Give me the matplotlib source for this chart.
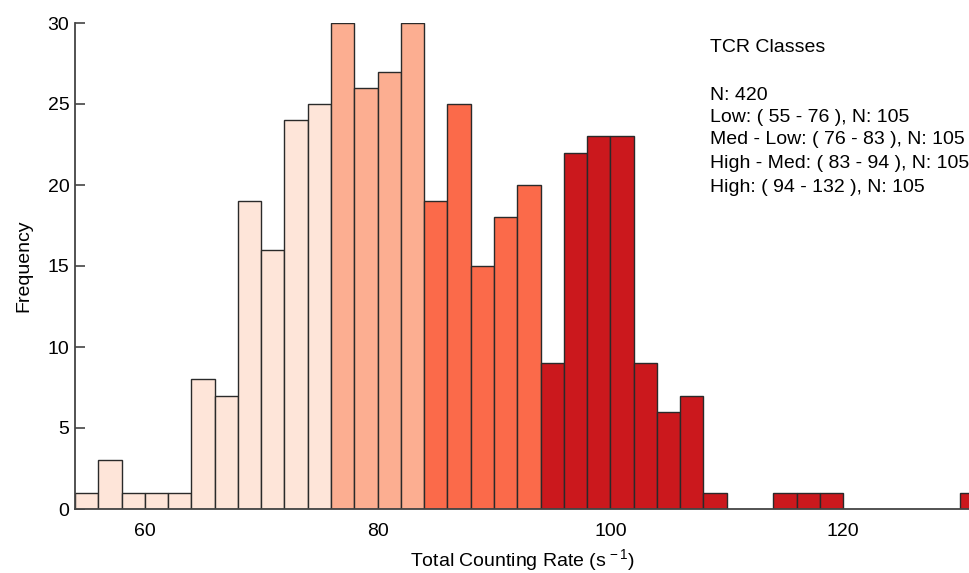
import matplotlib
matplotlib.use("Agg")
import matplotlib.pyplot as plt

plt.rcParams['font.family'] = ['Liberation Sans', 'DejaVu Sans']
plt.rcParams['mathtext.fontset'] = 'custom'
plt.rcParams['mathtext.rm'] = 'Liberation Sans'
plt.rcParams['mathtext.it'] = 'Liberation Sans'

# Data
bin_starts = [54, 56, 58, 60, 62, 64, 66, 68, 70, 72, 74,
              76, 78, 80, 82,
              84, 86, 88, 90, 92,
              94, 96, 98, 100, 102, 104, 106, 108, 110, 112, 114, 116, 118,
              120, 122, 124, 126, 128, 130]
counts = [1, 3, 1, 1, 1, 8, 7, 19, 16, 24, 25,
          30, 26, 27, 30,
          19, 25, 15, 18, 20,
          9, 22, 23, 23, 9, 6, 7, 1, 0, 0, 1, 1, 1,
          0, 0, 0, 0, 0, 1]
classes = ['Low'] * 11 + ['Med - Low'] * 4 + ['High - Med'] * 5 + ['High'] * 19
class_colors = {'Low': '#FEE5D9', 'Med - Low': '#FCAE91',
                'High - Med': '#FB6A4A', 'High': '#CB181D'}
legend_lines = ["N: 420",
                "Low: ( 55 - 76 ), N: 105",
                "Med - Low: ( 76 - 83 ), N: 105",
                "High - Med: ( 83 - 94 ), N: 105",
                "High: ( 94 - 132 ), N: 105"]
bin_width = 2

fig = plt.figure(figsize=(9.70, 5.73), dpi=100)
ax = fig.add_axes([75/970, 1 - 509/573, 1 - 75/970, (509 - 23)/573])

for x, c, cl in zip(bin_starts, counts, classes):
    if c > 0:
        ax.bar(x, c, width=bin_width, align='edge', color=class_colors[cl],
               edgecolor='#2a2a2a', linewidth=1.0, zorder=2)

ax.set_xlim(54, 130.9)
ax.set_ylim(0, 30)
ax.set_xticks([60, 80, 100, 120])
ax.set_yticks([0, 5, 10, 15, 20, 25, 30])

for s in ['top', 'right']:
    ax.spines[s].set_visible(False)
for s in ['left', 'bottom']:
    ax.spines[s].set_color('#444444')
    ax.spines[s].set_linewidth(1.3)
    ax.spines[s].set_zorder(3)

ax.tick_params(axis='y', direction='in', length=7, width=1.2, color='#444444',
               labelsize=14, pad=4)
ax.tick_params(axis='x', direction='in', length=0, width=1.2, color='#444444',
               labelsize=14, pad=10)

ax.set_ylabel('Frequency', fontsize=14, labelpad=11)
ax.set_xlabel('Total Counting Rate (s$^{\\,-1}$)', fontsize=14, labelpad=5)

tx = (710 - 75) / (970 - 75)
ax.text(tx, (509 - 47) / 486, 'TCR Classes', transform=ax.transAxes,
        fontsize=14, va='center', ha='left')
ys = [95, 117, 140, 163, 187]
for yy, line in zip(ys, legend_lines):
    ax.text(tx, (509 - yy) / 486, line, transform=ax.transAxes,
            fontsize=14, va='center', ha='left')

fig.savefig('out.png', dpi=100)
